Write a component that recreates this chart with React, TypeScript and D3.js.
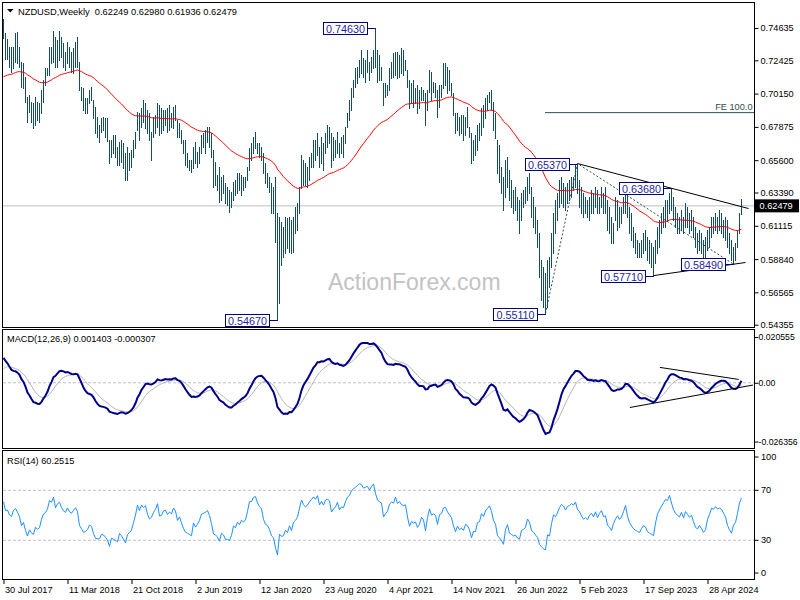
import * as React from "react";
import * as d3 from "d3";

// NZDUSD weekly bars, 30 Jul 2017 .. 25 Aug 2024, in 1/10000
const weekHigh = [
  7523, 7427, 7390, 7336, 7336, 7336, 7427, 7434, 7336, 7234,
  7222, 7131, 6994, 7006, 6960, 6949, 6994, 6960, 6949, 7040,
  7108, 7188, 7188, 7336, 7336, 7443, 7404, 7382, 7443, 7404,
  7359, 7302, 7370, 7336, 7302, 7325, 7370, 7404, 7234, 7063,
  7051, 6983, 6983, 7040, 7063, 6972, 6926, 6858, 6801, 6846,
  6858, 6846, 6846, 6700, 6698, 6732, 6732, 6653, 6687, 6698,
  6675, 6607, 6653, 6607, 6630, 6698, 6755, 6892, 6880, 6915,
  6972, 6949, 6903, 6880, 6755, 6858, 6869, 6949, 6937, 6915,
  6903, 6903, 6915, 6937, 6880, 6926, 6937, 6835, 6812, 6767,
  6698, 6698, 6607, 6562, 6562, 6653, 6687, 6619, 6653, 6732,
  6744, 6767, 6789, 6789, 6744, 6630, 6550, 6459, 6516, 6448,
  6459, 6402, 6379, 6357, 6345, 6413, 6425, 6470, 6470, 6459,
  6448, 6448, 6516, 6641, 6675, 6721, 6755, 6675, 6675, 6653,
  6607, 6539, 6470, 6448, 6402, 6379, 6448, 6197, 6174, 6140,
  6106, 6174, 6163, 6174, 6152, 6174, 6243, 6265, 6379, 6596,
  6562, 6539, 6516, 6584, 6607, 6698, 6698, 6744, 6653, 6721,
  6675, 6744, 6801, 6789, 6744, 6721, 6698, 6755, 6675, 6721,
  6732, 6789, 6880, 6972, 7051, 7108, 7188, 7199, 7245, 7313,
  7256, 7245, 7313, 7234, 7268, 7313, 7463, 7313, 7279, 7199,
  7085, 7085, 7074, 7188, 7234, 7291, 7302, 7302, 7279, 7325,
  7313, 7245, 7177, 7108, 7085, 7108, 7051, 7074, 7040, 7063,
  7040, 7017, 7040, 7177, 7165, 7097, 7085, 7040, 7074, 7074,
  7222, 7222, 7199, 7177, 7085, 7017, 6880, 6880, 6858, 6869,
  6869, 6858, 6926, 6789, 6744, 6698, 6732, 6801, 6812, 6915,
  6937, 6983, 7006, 7029, 7040, 6960, 6880, 6698, 6664, 6516,
  6448, 6562, 6584, 6493, 6425, 6357, 6379, 6311, 6288, 6334,
  6357, 6379, 6448, 6470, 6379, 6311, 6243, 6152, 6060, 5878,
  5833, 5787, 5878, 5901, 6060, 6197, 6288, 6334, 6425, 6448,
  6402, 6379, 6402, 6425, 6448, 6448, 6527, 6537, 6425, 6379,
  6334, 6311, 6288, 6311, 6357, 6334, 6379, 6357, 6311, 6379,
  6334, 6379, 6288, 6243, 6174, 6129, 6311, 6288, 6243, 6243,
  6311, 6357, 6368, 6243, 6197, 6106, 6060, 6015, 5992, 6015,
  6060, 6083, 6038, 6015, 5992, 5969, 6015, 6106, 6152, 6197,
  6243, 6288, 6288, 6334, 6368, 6311, 6243, 6197, 6174, 6220,
  6174, 6265, 6243, 6197, 6220, 6174, 6106, 6060, 6083, 6060,
  6015, 6038, 6083, 6106, 6174, 6174, 6197, 6174, 6220, 6197,
  6152, 6174, 6152, 6060, 6015, 5969, 5992, 6083, 6197, 6298,
];

const weekLow = [
  7393, 7250, 7250, 7199, 7165, 7188, 7234, 7222, 7199, 7058,
  7051, 6960, 6824, 6892, 6824, 6783, 6801, 6835, 6824, 6880,
  6960, 7074, 7142, 7142, 7222, 7234, 7199, 7199, 7245, 7268,
  7199, 7177, 7222, 7199, 7165, 7154, 7199, 7199, 7040, 6972,
  6903, 6880, 6880, 6949, 6972, 6846, 6744, 6721, 6687, 6755,
  6767, 6721, 6690, 6539, 6584, 6607, 6584, 6527, 6527, 6550,
  6505, 6425, 6425, 6493, 6516, 6584, 6641, 6767, 6698, 6789,
  6824, 6778, 6744, 6698, 6562, 6721, 6744, 6789, 6732, 6744,
  6767, 6801, 6755, 6767, 6789, 6778, 6835, 6721, 6721, 6675,
  6607, 6527, 6516, 6493, 6482, 6505, 6539, 6516, 6539, 6607,
  6653, 6607, 6687, 6653, 6584, 6379, 6391, 6357, 6277, 6288,
  6334, 6265, 6254, 6204, 6243, 6288, 6322, 6334, 6357, 6322,
  6357, 6379, 6425, 6493, 6562, 6607, 6641, 6607, 6584, 6562,
  6470, 6402, 6379, 6345, 6197, 6197, 6003, 5467, 5582, 5844,
  5901, 5924, 5958, 5935, 5924, 5935, 6060, 6083, 6197, 6368,
  6391, 6391, 6379, 6425, 6516, 6516, 6562, 6596, 6516, 6539,
  6493, 6607, 6653, 6675, 6516, 6562, 6584, 6607, 6584, 6607,
  6584, 6675, 6789, 6835, 6903, 6994, 7063, 7085, 7131, 7154,
  7131, 7097, 7165, 7108, 7165, 7188, 7199, 7097, 7108, 7108,
  6937, 6994, 7006, 7040, 7120, 7131, 7142, 7120, 7131, 7154,
  7142, 7177, 7063, 6915, 6949, 6926, 6949, 6880, 6915, 6972,
  6972, 6801, 6903, 7029, 6972, 7029, 6994, 6858, 6926, 6994,
  7051, 7074, 7017, 7040, 7006, 6869, 6744, 6767, 6732, 6744,
  6698, 6732, 6789, 6721, 6539, 6562, 6596, 6630, 6698, 6732,
  6789, 6846, 6903, 6960, 6903, 6767, 6710, 6470, 6413, 6334,
  6220, 6311, 6379, 6288, 6243, 6197, 6220, 6152, 6060, 6152,
  6243, 6265, 6288, 6334, 6174, 6106, 6060, 5969, 5764, 5605,
  5559, 5511, 5559, 5696, 5833, 5924, 6060, 6152, 6243, 6265,
  6243, 6220, 6265, 6288, 6311, 6357, 6379, 6334, 6243, 6197,
  6174, 6197, 6174, 6152, 6197, 6197, 6243, 6197, 6197, 6243,
  6197, 6197, 6083, 6060, 5992, 5992, 6152, 6083, 6106, 6129,
  6197, 6197, 6174, 6060, 6015, 5969, 5924, 5901, 5901, 5901,
  5924, 5946, 5878, 5855, 5833, 5771, 5855, 5924, 5969, 6060,
  6106, 6106, 6152, 6197, 6220, 6152, 6106, 6060, 6060, 6083,
  6060, 6106, 6106, 6060, 6083, 6038, 5969, 5924, 5946, 5924,
  5878, 5851, 5946, 5969, 6038, 6060, 6083, 6060, 6083, 6060,
  6038, 6015, 5969, 5924, 5878, 5849, 5878, 5969, 6060, 6194,
];

const weekClose = [
  7410, 7290, 7300, 7230, 7210, 7300, 7330, 7280, 7220, 7080,
  7120, 6980, 6850, 6930, 6860, 6830, 6920, 6880, 6900, 7010,
  7090, 7110, 7170, 7320, 7300, 7400, 7260, 7340, 7370, 7300,
  7250, 7230, 7300, 7250, 7230, 7270, 7310, 7260, 7060, 7000,
  6930, 6940, 6960, 7010, 6990, 6870, 6770, 6760, 6760, 6800,
  6790, 6750, 6700, 6570, 6640, 6620, 6600, 6570, 6640, 6600,
  6540, 6470, 6540, 6560, 6580, 6650, 6730, 6860, 6800, 6880,
  6850, 6880, 6780, 6720, 6740, 6800, 6840, 6920, 6770, 6780,
  6840, 6850, 6800, 6830, 6810, 6880, 6850, 6740, 6780, 6700,
  6620, 6560, 6540, 6520, 6500, 6620, 6560, 6590, 6630, 6700,
  6710, 6720, 6740, 6690, 6600, 6450, 6430, 6400, 6320, 6390,
  6360, 6280, 6280, 6260, 6300, 6380, 6360, 6410, 6380, 6420,
  6400, 6420, 6500, 6620, 6620, 6680, 6690, 6640, 6610, 6590,
  6490, 6430, 6420, 6370, 6280, 6250, 6040, 5800, 6040, 5980,
  5990, 6060, 6010, 6100, 6000, 6120, 6150, 6200, 6360, 6540,
  6470, 6430, 6470, 6540, 6590, 6650, 6620, 6700, 6580, 6650,
  6600, 6700, 6720, 6700, 6550, 6600, 6640, 6720, 6620, 6670,
  6660, 6770, 6860, 6900, 7010, 7060, 7100, 7150, 7200, 7190,
  7160, 7180, 7200, 7170, 7240, 7300, 7220, 7160, 7140, 7130,
  6980, 7020, 7050, 7150, 7180, 7170, 7260, 7200, 7230, 7200,
  7190, 7200, 7080, 6960, 7010, 6990, 7000, 6930, 6960, 7030,
  7000, 6850, 7000, 7130, 7040, 7060, 7040, 6900, 7040, 7060,
  7150, 7160, 7100, 7060, 7020, 6890, 6780, 6850, 6780, 6800,
  6760, 6830, 6810, 6740, 6580, 6650, 6650, 6760, 6770, 6880,
  6840, 6920, 6960, 7000, 6930, 6800, 6740, 6500, 6450, 6370,
  6260, 6460, 6540, 6320, 6280, 6240, 6250, 6170, 6140, 6260,
  6270, 6300, 6420, 6360, 6190, 6150, 6080, 6020, 5810, 5720,
  5640, 5600, 5800, 5760, 5960, 6140, 6100, 6180, 6300, 6380,
  6350, 6280, 6360, 6380, 6420, 6400, 6460, 6350, 6320, 6250,
  6200, 6220, 6190, 6250, 6280, 6230, 6300, 6220, 6280, 6320,
  6240, 6250, 6110, 6080, 6020, 6100, 6160, 6200, 6150, 6180,
  6250, 6340, 6200, 6100, 6040, 5990, 5960, 5940, 5920, 5960,
  5990, 5970, 5900, 5880, 5860, 5840, 5950, 6050, 6100, 6150,
  6200, 6250, 6240, 6320, 6250, 6180, 6140, 6120, 6100, 6150,
  6090, 6160, 6130, 6100, 6120, 6050, 5980, 5960, 5990, 5950,
  5900, 5920, 6010, 6060, 6130, 6120, 6150, 6130, 6140, 6130,
  6100, 6070, 5990, 5940, 5900, 5960, 5980, 6060, 6180, 6248,
];

const dateLabels = [
  "30 Jul 2017", "11 Mar 2018", "21 Oct 2018", "2 Jun 2019", "12 Jan 2020", "23 Aug 2020",
  "4 Apr 2021", "14 Nov 2021", "26 Jun 2022", "5 Feb 2023", "17 Sep 2023", "28 Apr 2024",
];
const labelStep = 32; // weeks between date labels

const priceTicks = [0.74635, 0.72425, 0.7015, 0.67875, 0.656, 0.6339, 0.61115, 0.5884, 0.56565, 0.54355];
const macdTicks = [0.020555, 0, -0.026356];
const rsiTicks = [100, 70, 30, 0];
const rsiLevels = [70, 30];

const headerText = "NZDUSD,Weekly  0.62249 0.62980 0.61936 0.62479";
const macdHeader = "MACD(12,26,9) 0.001403 -0.000307";
const rsiHeader = "RSI(14) 60.2515";
const lastClose = 0.62479;

// swing highs / lows marked with boxes
const swings = [
  { i: 186, price: 0.7463, text: "0.74630" },
  { i: 137, price: 0.5467, text: "0.54670" },
  { i: 271, price: 0.5511, text: "0.55110" },
  { i: 287, price: 0.6537, text: "0.65370" },
  { i: 334, price: 0.6368, text: "0.63680" },
  { i: 325, price: 0.5771, text: "0.57710" },
  { i: 365, price: 0.5849, text: "0.58490" },
];
const fePoints = [
  { i: 271, price: 0.5511 },
  { i: 287, price: 0.6537 },
  { i: 365, price: 0.5849 },
];
const feLevel = 0.6885;
const upperTrend = { a: { i: 287, price: 0.6537 }, b: { i: 334, price: 0.6368 }, end: 372.5 };
const lowerTrend = { a: { i: 325, price: 0.5771 }, b: { i: 365, price: 0.5849 }, end: 371 };
const macdTrends = [
  [{ i: 328.2, v: 0.0069 }, { i: 367.6, v: 0.0015 }],
  [{ i: 313.2, v: -0.0111 }, { i: 374.8, v: -0.001 }],
];

// indicator state before the first visible week
const maSeed = 0.712;
const ema12Seed = 0.7345;
const ema26Seed = 0.723;
const signalSeed = 0.005;
const rsiGainSeed = 0.0042;
const rsiLossSeed = 0.0027;

const FONT = "'Liberation Sans', Arial, sans-serif";
const BAR = "#134b6a";

function ema(values: number[], period: number, seed: number) {
  const k = 2 / (period + 1);
  let prev = seed;
  return values.map((v) => (prev = prev + (v - prev) * k));
}

function wilderRsi(values: number[], period: number, g0: number, l0: number) {
  let g = g0;
  let l = l0;
  return values.map((v, i) => {
    if (i > 0) {
      const d = v - values[i - 1];
      g = (g * (period - 1) + Math.max(d, 0)) / period;
      l = (l * (period - 1) + Math.max(-d, 0)) / period;
    }
    return (100 * g) / (g + l);
  });
}

export default function App() {
  const n = weekClose.length;
  const closes = weekClose.map((v) => v / 10000);

  const x = d3.scaleLinear().domain([0, n - 1]).range([3.5, 3.5 + 2 * (n - 1)]);
  const yPrice = d3.scaleLinear().domain([0.54355, 0.74635]).range([324.7, 28]);
  const yMacd = d3.scaleLinear().domain([-0.026356, 0.020555]).range([441.5, 337]);
  const yRsi = d3.scaleLinear().domain([0, 100]).range([577.8, 452.8]);

  const ma = ema(closes, 55, maSeed);
  const fast = ema(closes, 12, ema12Seed);
  const slow = ema(closes, 26, ema26Seed);
  const macd = fast.map((v, i) => v - slow[i]);
  const signal = ema(macd, 9, signalSeed);
  const rsi = wilderRsi(closes, 14, rsiGainSeed, rsiLossSeed);

  const idxLine = (f: (i: number) => number) =>
    d3.line<number>().x((_, i) => x(i)).y((d) => f(d));

  const maPath = idxLine(yPrice)(ma) as string;
  const macdPath = idxLine(yMacd)(macd) as string;
  const signalPath = idxLine(yMacd)(signal) as string;
  const rsiPath = idxLine(yRsi)(rsi) as string;

  const trendAt = (t: typeof upperTrend, i: number) =>
    t.a.price + ((t.b.price - t.a.price) * (i - t.a.i)) / (t.b.i - t.a.i);

  const priceAxis = (node: SVGGElement | null) => {
    if (!node) return;
    const g = d3.select(node);
    g.call(
      d3
        .axisRight(yPrice)
        .tickValues(priceTicks)
        .tickFormat((d) => (d as number).toFixed(5))
        .tickSize(4)
        .tickPadding(2)
    );
    g.select(".domain").remove();
    g.attr("font-family", FONT).attr("font-size", 9.2);
  };

  const macdAxis = (node: SVGGElement | null) => {
    if (!node) return;
    const g = d3.select(node);
    g.call(
      d3
        .axisRight(yMacd)
        .tickValues(macdTicks)
        .tickFormat((d) => ((d as number) === 0 ? "0.00" : (d as number).toFixed(6)))
        .tickSize(4)
        .tickPadding(0)
    );
    g.select(".domain").remove();
    g.attr("font-family", FONT).attr("font-size", 8.7);
  };

  const timeAxis = (node: SVGGElement | null) => {
    if (!node) return;
    const g = d3.select(node);
    g.call(
      d3
        .axisBottom(x)
        .tickValues(dateLabels.map((_, k) => k * labelStep))
        .tickFormat((_, k) => dateLabels[k])
        .tickSize(5)
        .tickPadding(2)
    );
    g.select(".domain").remove();
    g.attr("font-family", FONT).attr("font-size", 9.2);
    g.selectAll("text").attr("text-anchor", "start").attr("x", 1);
  };

  const rsiLabelY = (v: number) => Math.min(573, Math.max(457, yRsi(v)));

  return (
    <svg
      width={800}
      height={600}
      style={{ position: "absolute", left: 0, top: 0, background: "#fff" }}
      fontFamily={FONT}
    >
      <defs>
        <clipPath id="clipMain">
          <rect x={3} y={3} width={751} height={324} />
        </clipPath>
        <clipPath id="clipMacd">
          <rect x={3} y={330} width={751} height={118} />
        </clipPath>
        <clipPath id="clipRsi">
          <rect x={3} y={451} width={751} height={128} />
        </clipPath>
      </defs>
      <rect width={800} height={600} fill="#fff" />

      {/* price panel */}
      <g clipPath="url(#clipMain)">
        <line x1={3} x2={754} y1={yPrice(lastClose)} y2={yPrice(lastClose)} stroke="#c0c0c0" />
        <text x={328} y={290} fontSize={23} fill="#c3c3c3">
          ActionForex.com
        </text>
        <line x1={x(fePoints[0].i) - 0.5} x2={754} y1={yPrice(feLevel)} y2={yPrice(feLevel)} stroke="#2f4f4f" />
        <path
          d={d3.line<{ i: number; price: number }>().x((d) => x(d.i)).y((d) => yPrice(d.price))(fePoints) as string}
          fill="none"
          stroke="#2f4f4f"
          strokeDasharray="2,2"
        />
        <g stroke={BAR} shapeRendering="crispEdges">
          {weekClose.map((_, i) => (
            <line
              key={i}
              x1={x(i)}
              x2={x(i)}
              y1={yPrice(weekHigh[i] / 10000)}
              y2={yPrice(weekLow[i] / 10000) + 1}
            />
          ))}
        </g>
        <path d={maPath} fill="none" stroke="#ff0000" strokeWidth={1} />
        {[upperTrend, lowerTrend].map((t, k) => (
          <line
            key={k}
            x1={x(t.a.i)}
            y1={yPrice(t.a.price)}
            x2={x(t.end)}
            y2={yPrice(trendAt(t, t.end))}
            stroke="#000"
          />
        ))}
        {swings.map((s) => {
          const bx = Math.round(x(s.i) - 9) + 0.5;
          const cy = yPrice(s.price);
          const top = Math.round(cy - 6) + 0.5;
          return (
            <g key={s.text}>
              <line x1={bx} x2={x(s.i)} y1={Math.round(cy) + 0.5} y2={Math.round(cy) + 0.5} stroke="#000080" />
              <rect x={bx - 44} y={top} width={44} height={12} fill="#fff" stroke="#000080" />
              <text x={bx - 22} y={top + 10} textAnchor="middle" fontSize={10.8} fill="#1f1fa8">
                {s.text}
              </text>
            </g>
          );
        })}
        <text x={752.5} y={109.5} textAnchor="end" fontSize={9.2} fill="#2f4f4f">
          FE 100.0
        </text>
      </g>
      <path d="M7,9 L13.5,9 L10.25,12.5 Z" fill="#000" />
      <text x={18} y={14.5} fontSize={9.3} fill="#000" style={{ whiteSpace: "pre" }}>
        {headerText}
      </text>

      {/* MACD panel */}
      <g clipPath="url(#clipMacd)">
        <line x1={3} x2={754} y1={yMacd(0)} y2={yMacd(0)} stroke="#c0c0c0" strokeDasharray="3,2" />
        <path d={signalPath} fill="none" stroke="#b4b4b4" strokeWidth={1} />
        <path d={macdPath} fill="none" stroke="#00008b" strokeWidth={2} />
        {macdTrends.map((t, k) => (
          <line key={k} x1={x(t[0].i)} y1={yMacd(t[0].v)} x2={x(t[1].i)} y2={yMacd(t[1].v)} stroke="#000" />
        ))}
      </g>
      <text x={7} y={342} fontSize={9.2} fill="#000">
        {macdHeader}
      </text>

      {/* RSI panel */}
      <g clipPath="url(#clipRsi)">
        {rsiLevels.map((v) => (
          <line key={v} x1={3} x2={754} y1={yRsi(v)} y2={yRsi(v)} stroke="#c0c0c0" strokeDasharray="3,2" />
        ))}
        <path d={rsiPath} fill="none" stroke="#1e90ff" strokeWidth={1} />
      </g>
      <text x={7} y={464} fontSize={9.2} fill="#000">
        {rsiHeader}
      </text>

      {/* frames */}
      <g fill="none" stroke="#000" shapeRendering="crispEdges">
        <rect x={2.5} y={2.5} width={752} height={325} />
        <rect x={2.5} y={329.5} width={752} height={118.5} />
        <rect x={2.5} y={450.5} width={752} height={128.5} />
      </g>

      {/* axes */}
      <g transform="translate(754.5,0)" ref={priceAxis} />
      <g transform="translate(754.5,0)" ref={macdAxis} />
      <g fontSize={9.2} fontFamily={FONT}>
        {rsiTicks.map((v) => (
          <g key={v}>
            <line x1={754.5} x2={758.5} y1={rsiLabelY(v)} y2={rsiLabelY(v)} stroke="#000" />
            <text x={761} y={rsiLabelY(v)} dy="0.32em" fill="#000">
              {v}
            </text>
          </g>
        ))}
      </g>
      <g transform="translate(0,579)" ref={timeAxis} />

      {/* last price tag */}
      <rect x={755} y={yPrice(lastClose) - 6.5} width={44} height={13} fill="#000" />
      <text x={759.5} y={yPrice(lastClose)} dy="0.34em" fontSize={9.2} fill="#fff">
        {lastClose.toFixed(5)}
      </text>
    </svg>
  );
}
